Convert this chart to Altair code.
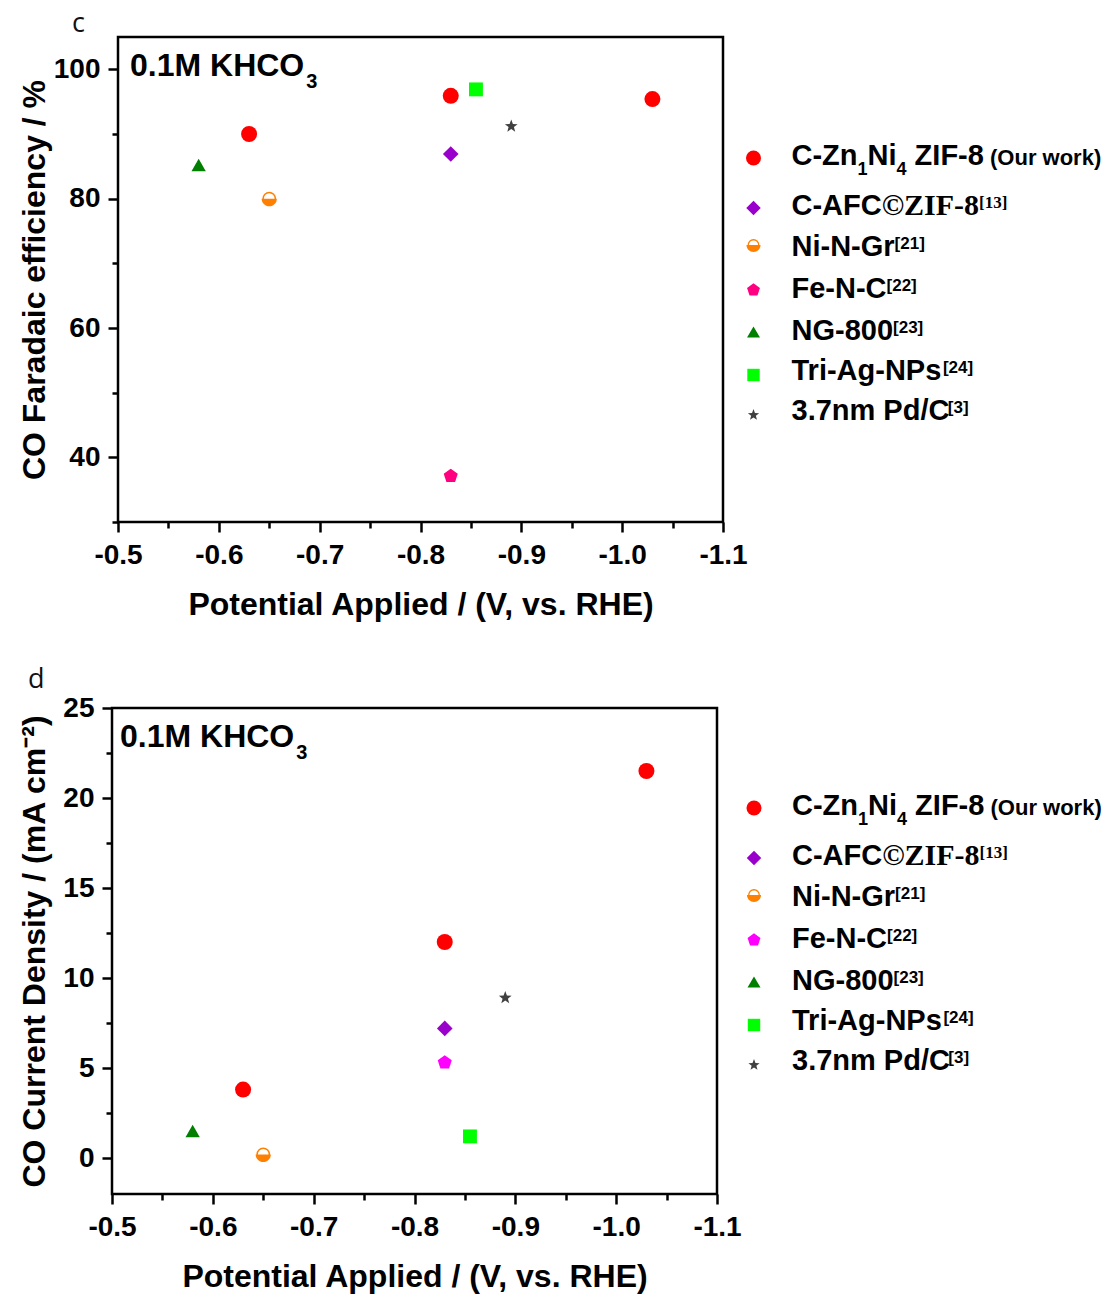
import math
import pandas as pd
import altair as alt

# ---------------- data ----------------
series = ["C-Zn1Ni4 ZIF-8", "C-AFC©ZIF-8", "Ni-N-Gr", "Fe-N-C", "NG-800", "Tri-Ag-NPs", "3.7nm Pd/C"]
point_series = ["C-Zn1Ni4 ZIF-8", "C-Zn1Ni4 ZIF-8", "C-Zn1Ni4 ZIF-8", "C-AFC©ZIF-8",
                "Ni-N-Gr", "Fe-N-C", "NG-800", "Tri-Ag-NPs", "3.7nm Pd/C"]
potential = [-0.63, -0.83, -1.03, -0.83, -0.65, -0.83, -0.58, -0.855, -0.89]
faradaic_eff = [90.0, 95.9, 95.4, 86.9, 80.0, 37.1, 85.2, 96.9, 91.2]
current_density = [3.8, 12.0, 21.5, 7.2, 0.2, 5.3, 1.5, 1.2, 8.9]

x_ticks = [-0.5, -0.6, -0.7, -0.8, -0.9, -1.0, -1.1]
x_minor = [-0.55, -0.65, -0.75, -0.85, -0.95, -1.05]
fe_ticks = [40, 60, 80, 100]
fe_minor = [30, 50, 70, 90]
cd_ticks = [0, 5, 10, 15, 20, 25]
cd_minor = [2.5, 7.5, 12.5, 17.5, 22.5]

legend_parts = [
    [("C-Zn", "main"), ("1", "sub"), ("Ni", "main"), ("4", "sub"), (" ZIF-8", "main"), (" (Our work)", "small")],
    [("C-AFC", "main"), ("©ZIF-8", "serif"), ("[13]", "serifsup")],
    [("Ni-N-Gr", "main"), ("[21]", "sup")],
    [("Fe-N-C", "main"), ("[22]", "sup")],
    [("NG-800", "main"), ("[23]", "sup")],
    [("Tri-Ag-NPs", "main"), ("[24]", "sup")],
    [("3.7nm Pd/C", "main"), ("[3]", "sup")],
]

colors_c = ["#FF0000", "#9900CC", "#FF8000", "#FF0080", "#007F00", "#00FF00", "#404040"]
colors_d = ["#FF0000", "#9900CC", "#FF8000", "#FF00FF", "#007F00", "#00FF00", "#404040"]

# ---------------- marker shapes ----------------
def poly_path(pts):
    return "M" + "L".join(f"{x:.3f},{y:.3f}" for x, y in pts) + "Z"

pent = poly_path([(math.cos(math.radians(-90 + 72 * k)), math.sin(math.radians(-90 + 72 * k))) for k in range(5)])
star = poly_path([((1 if k % 2 == 0 else 0.42) * math.cos(math.radians(-90 + 36 * k)),
                   (1 if k % 2 == 0 else 0.42) * math.sin(math.radians(-90 + 36 * k))) for k in range(10)])
half = "M-1,0A1,1,0,0,0,1,0Z"
shapes = ["circle", "diamond", half, pent, "triangle-up", "square", star]
plot_sizes = [256, 180, 150, 190, 220, 144, 220]
legend_sizes = [225, 140, 110, 160, 170, 100, 150]

SANS = "Liberation Sans, Arial, sans-serif"
SERIF = "Liberation Serif, Times New Roman, serif"

SANS_W = {' ': 278, '-': 333, '.': 278, '/': 278, '(': 333, ')': 333, '[': 333, ']': 333, '©': 737,
          'A': 722, 'C': 722, 'F': 611, 'G': 778, 'H': 722, 'I': 278, 'K': 722, 'M': 833, 'N': 722,
          'O': 778, 'P': 667, 'T': 611, 'Z': 611, 'a': 556, 'e': 556, 'g': 611, 'i': 278, 'k': 556,
          'm': 889, 'n': 611, 'o': 611, 'r': 389, 's': 556, 'u': 611, 'w': 778}
SERIF_W = {' ': 250, '©': 747, 'Z': 667, 'I': 389, 'F': 611, '-': 333, '[': 333, ']': 333}

def text_w(s, table, fs):
    return sum(table.get(ch, 556 if table is SANS_W else 500) for ch in s) * fs / 1000.0

STYLE = {
    "main": ("sans", 29, 0),
    "sub": ("sans", 18, 10),
    "sup": ("sans", 17, -7),
    "small": ("sans", 22, 0),
    "serif": ("serif", 30, 0),
    "serifsup": ("serif", 17, -7),
}

# legend layout, in picture pixels (same for both panels, panel d shifted down by 650)
marker_img_y = [158, 208, 245, 290, 332, 375, 415]
baseline_img_y = [165, 215, 256, 298, 340, 380, 420]
MARKER_IMG_X = 754
TEXT_IMG_X = 792

one = pd.DataFrame({"k": [0]})


def legend_text_rows(x0, baselines):
    rows = []
    for parts, base in zip(legend_parts, baselines):
        x = x0
        for txt, style in parts:
            fam, fs, dy = STYLE[style]
            table = SANS_W if fam == "sans" else SERIF_W
            lead = len(txt) - len(txt.lstrip(" "))
            x += lead * table[" "] * fs / 1000.0
            t = txt.lstrip(" ")
            rows.append({"px": x, "py": base + dy, "t": t, "fs": fs, "fam": fam})
            x += text_w(t, table, fs)
    return pd.DataFrame(rows)


def legend_layers(colors, ox, oy, shift):
    mk = pd.DataFrame({
        "series": series,
        "px": [MARKER_IMG_X - ox] * len(series),
        "py": [v + shift - oy for v in marker_img_y],
    })
    txt = legend_text_rows(TEXT_IMG_X - ox, [v + shift - oy for v in baseline_img_y])
    px = alt.X("px:Q", scale=None, axis=None)
    py = alt.Y("py:Q", scale=None, axis=None)
    marks = alt.Chart(mk).mark_point(filled=True, opacity=1, strokeWidth=0).encode(
        x=px, y=py,
        shape=alt.Shape("series:N", scale=alt.Scale(domain=series, range=shapes), legend=None),
        color=alt.Color("series:N", scale=alt.Scale(domain=series, range=colors), legend=None),
        size=alt.Size("series:N", scale=alt.Scale(domain=series, range=legend_sizes), legend=None),
    )
    ring = alt.Chart(mk).transform_filter(alt.datum.series == "Ni-N-Gr").mark_point(
        shape="circle", filled=False, color=colors[2], strokeWidth=1.3, size=legend_sizes[2], opacity=1
    ).encode(x=px, y=py)
    sans_t = alt.Chart(txt).transform_filter(alt.datum.fam == "sans").mark_text(
        font=SANS, fontWeight="bold", align="left", baseline="alphabetic", color="black"
    ).encode(x=px, y=py, text="t:N", size=alt.Size("fs:Q", scale=None, legend=None))
    serif_t = alt.Chart(txt).transform_filter(alt.datum.fam == "serif").mark_text(
        font=SERIF, fontWeight="bold", align="left", baseline="alphabetic", color="black"
    ).encode(x=px, y=py, text="t:N", size=alt.Size("fs:Q", scale=None, legend=None))
    return [marks, ring, sans_t, serif_t]


def make_panel(values, ydom, yt, ym, ytitle, colors, letter, letter_xy, inset_xy, ytitle_pad,
               w, h, origin, shift):
    df = pd.DataFrame({"series": point_series, "potential": potential, "value": values})
    xs = alt.Scale(domain=[-1.1, -0.5], reverse=True, nice=False, zero=False)
    ys = alt.Scale(domain=ydom, nice=False, zero=False)
    base = alt.Chart(df)
    label_expr = "(datum.value < 0 ? '-' : '') + format(abs(datum.value), '.1f')"
    pts = base.mark_point(filled=True, opacity=1, strokeWidth=0).encode(
        x=alt.X("potential:Q", scale=xs, axis=alt.Axis(
            values=x_ticks, labelExpr=label_expr, title="Potential Applied / (V, vs. RHE)",
            orient="bottom", tickSize=10, labelPadding=9, titlePadding=20)),
        y=alt.Y("value:Q", scale=ys, axis=alt.Axis(
            values=yt, format="d", title=ytitle, orient="left", tickSize=10,
            labelPadding=8, titlePadding=ytitle_pad)),
        shape=alt.Shape("series:N", scale=alt.Scale(domain=series, range=shapes), legend=None),
        color=alt.Color("series:N", scale=alt.Scale(domain=series, range=colors), legend=None),
        size=alt.Size("series:N", scale=alt.Scale(domain=series, range=plot_sizes), legend=None),
    )
    minor = base.mark_point(opacity=0).encode(
        x=alt.X("potential:Q", scale=xs, axis=alt.Axis(values=x_minor, labels=False, tickSize=6,
                                                       title=None, orient="bottom")),
        y=alt.Y("value:Q", scale=ys, axis=alt.Axis(values=ym, labels=False, tickSize=6,
                                                   title=None, orient="left")),
    )
    ring = base.transform_filter(alt.datum.series == "Ni-N-Gr").mark_point(
        shape="circle", filled=False, color=colors[2], strokeWidth=1.5, size=plot_sizes[2], opacity=1
    ).encode(x=alt.X("potential:Q", scale=xs, axis=None), y=alt.Y("value:Q", scale=ys, axis=None))

    ix, iy = inset_xy
    main_txt = "0.1M KHCO"
    inset = alt.Chart(one).mark_text(
        text=main_txt, font=SANS, fontWeight="bold", fontSize=32, align="left",
        baseline="alphabetic", color="black").encode(x=alt.value(ix), y=alt.value(iy))
    inset_sub = alt.Chart(one).mark_text(
        text="3", font=SANS, fontWeight="bold", fontSize=20, align="left",
        baseline="alphabetic", color="black").encode(
        x=alt.value(ix + text_w(main_txt, SANS_W, 32) + 2), y=alt.value(iy + 12))
    lx, ly = letter_xy
    letter_mark = alt.Chart(one).mark_text(
        text=letter, font="Open Sans", fontWeight="normal", fontSize=27, align="left",
        baseline="alphabetic", color="#111111").encode(x=alt.value(lx), y=alt.value(ly))
    layers = [minor, pts, ring, inset, inset_sub, letter_mark] + legend_layers(colors, origin[0], origin[1], shift)
    return alt.layer(*layers).resolve_scale(
        x="independent", y="independent", shape="independent", color="independent", size="independent"
    ).properties(width=w, height=h, view=alt.ViewBackground(stroke="black", strokeWidth=2.5))


W = 605
H1 = 485
H2 = 486

panel_c = make_panel(faradaic_eff, [30, 105], fe_ticks, fe_minor, "CO Faradaic efficiency / %",
                     colors_c, "c", (-46, -5), (12, 39), 2, W, H1, (118.5, 37), 0)
panel_d = make_panel(current_density, [-2, 25], cd_ticks, cd_minor, "CO Current Density / (mA cm⁻²)",
                     colors_d, "d", (-84, -20), (8, 39), 11, W, H2, (112, 708), 650)

spacer = alt.Chart(one).mark_point(opacity=0).encode(
    x=alt.value(0), y=alt.value(0)).properties(width=6, height=H1)
row1 = alt.hconcat(spacer, panel_c, spacing=0, bounds="flush")

chart = alt.vconcat(row1, panel_d, spacing=42).properties(
    padding={"left": 17, "top": 8, "right": 0, "bottom": 0}, background="white"
).configure_view(stroke="transparent").configure_axis(
    domain=False, grid=False, labelFont=SANS, labelFontSize=28, labelFontWeight="bold",
    labelColor="black", titleFont=SANS, titleFontSize=32, titleFontWeight="bold",
    titleColor="black", tickColor="black", tickWidth=2.5, labelFlush=False, labelOverlap=False
)

chart.save("out.html", embed_options={"renderer": "svg", "actions": False})
